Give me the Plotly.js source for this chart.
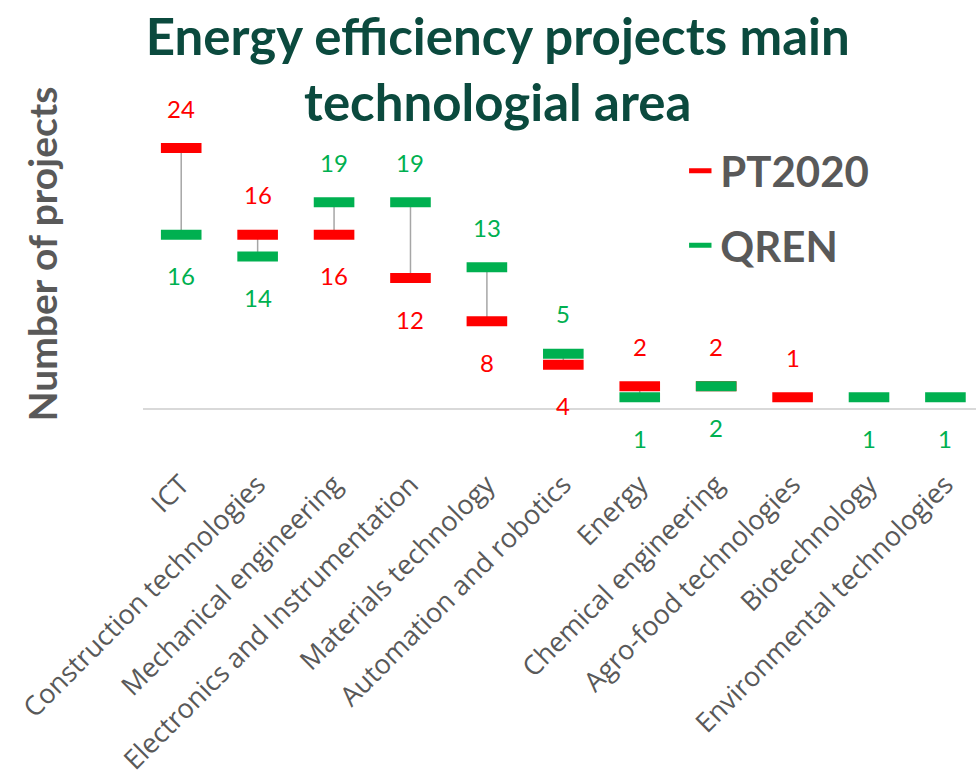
<!DOCTYPE html>
<html>
<head>
<meta charset="utf-8">
<script src="https://cdn.plot.ly/plotly-3.0.1.min.js"></script>
<style>
  html, body { margin: 0; padding: 0; background: #fff; }
  #chart { width: 976px; height: 782px; }
</style>
</head>
<body>
<div id="chart"></div>
<script>
var areas = ['ICT', 'Construction technologies', 'Mechanical engineering', 'Electronics and Instrumentation',
  'Materials technology', 'Automation and robotics', 'Energy', 'Chemical engineering',
  'Agro-food technologies', 'Biotechnology', 'Environmental technologies'];
var pt2020 = [24, 16, 16, 12, 8, 4, 2, 2, 1, null, null];
var qren = [16, 14, 19, 19, 13, 5, 1, 2, null, 1, 1];

var RED = '#ff0000';
var GREEN = '#00b050';

// grey connector between the two values, drawn as error bars
var errUp = [], errDown = [];
for (var i = 0; i < areas.length; i++) {
  var r = pt2020[i], g = qren[i];
  if (r == null || g == null) { errUp.push(0); errDown.push(0); continue; }
  errUp.push(g > r ? g - r : 0);
  errDown.push(r > g ? r - g : 0);
}

var connector = {
  x: areas, y: pt2020, type: 'scatter', mode: 'markers',
  marker: { size: 1, color: 'rgba(0,0,0,0)' },
  error_y: { type: 'data', symmetric: false, array: errUp, arrayminus: errDown,
    color: '#a6a6a6', thickness: 1.5, width: 0 },
  showlegend: false, hoverinfo: 'skip'
};

var trPT = {
  x: areas, y: pt2020, name: 'PT2020', legendgroup: 'pt', type: 'scatter', mode: 'markers',
  marker: { symbol: 'line-ew-open', size: 29, color: RED, line: { width: 10, color: RED } }
};
var trQR = {
  x: areas, y: qren, name: 'QREN', legendgroup: 'qr', type: 'scatter', mode: 'markers',
  marker: { symbol: 'line-ew-open', size: 29, color: GREEN, line: { width: 10, color: GREEN } }
};

// value labels above / below the markers
var annotations = [];
for (var j = 0; j < areas.length; j++) {
  var rv = pt2020[j], gv = qren[j];
  if (rv != null) {
    var up = (gv == null || rv >= gv);
    annotations.push({ x: areas[j], y: rv, text: String(rv), showarrow: false,
      yshift: up ? 40 : -41, font: { family: 'Lato, sans-serif', size: 24, color: RED } });
  }
  if (gv != null) {
    var upg = (rv != null && gv > rv);
    annotations.push({ x: areas[j], y: gv, text: String(gv), showarrow: false,
      yshift: upg ? 40 : -41, font: { family: 'Lato, sans-serif', size: 24, color: GREEN } });
  }
}

var layout = {
  width: 976, height: 782,
  margin: { l: 143, r: 0, t: 100, b: 374 },
  paper_bgcolor: '#ffffff', plot_bgcolor: '#ffffff',
  title: {
    text: '<b>Energy efficiency projects main<br>technologial area</b>',
    font: { family: 'Lato, sans-serif', size: 51, color: '#0b4a3e' },
    x: 0.51, xanchor: 'center', y: 0.93, yanchor: 'top'
  },
  xaxis: {
    range: [-0.5, 10.4],
    showgrid: false, zeroline: false,
    showline: true, linecolor: '#d9d9d9', linewidth: 2,
    tickangle: -45, ticklabelstandoff: 48,
    tickfont: { family: 'Open Sans, sans-serif', size: 27, color: '#595959' }
  },
  yaxis: {
    range: [0, 28.44],
    showgrid: false, zeroline: false, showticklabels: false, showline: false,
    title: { text: '<b>Number of projects</b>', standoff: 72,
      font: { family: 'Lato, sans-serif', size: 39, color: '#595959' } }
  },
  legend: {
    x: 0.645, y: 0.88, xanchor: 'left', yanchor: 'top',
    font: { family: 'Lato, sans-serif', size: 42, color: '#595959', weight: 'bold' },
    tracegroupgap: 17, itemwidth: 30
  },
  annotations: annotations,
  showlegend: true
};

Plotly.newPlot('chart', [connector, trPT, trQR], layout, { displayModeBar: false });
</script>
</body>
</html>
